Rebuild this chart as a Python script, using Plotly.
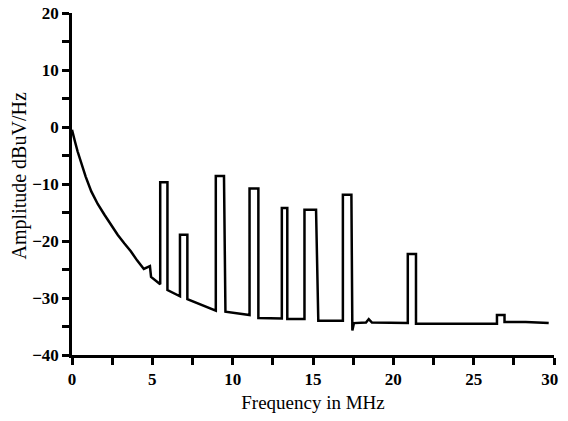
import plotly.graph_objects as go

# spectrum trace (frequency in MHz, amplitude dBuV/Hz)
freq = [0, 0.05, 0.18, 0.35, 0.59, 0.85, 1.2, 1.6, 2.02, 2.4, 2.84, 3.25, 3.66,
        4.05, 4.47, 4.85, 4.92, 5.49,
        5.49, 5.94, 5.94, 6.72, 6.72, 7.18, 7.18, 8.95, 8.95, 9.46, 9.55,
        11.05, 11.05, 11.6, 11.6, 13.06, 13.06, 13.4, 13.4, 14.47, 14.47,
        15.19, 15.33, 16.86, 16.86, 17.39, 17.45, 17.55, 18.3, 18.47, 18.67,
        20.9, 20.9, 21.41, 21.41, 26.45, 26.45, 26.92, 26.92, 28.24, 29.67]
amp = [-0.5, -1.2, -2.5, -4.3, -6.6, -8.7, -11.3, -13.5, -15.4, -17.1, -18.9, -20.4, -21.8,
       -23.4, -24.9, -24.4, -26.3, -27.6,
       -9.7, -9.7, -28.6, -29.7, -18.9, -18.9, -30.2, -32.2, -8.6, -8.6, -32.4,
       -33.0, -10.8, -10.8, -33.5, -33.6, -14.2, -14.2, -33.7, -33.7, -14.5,
       -14.5, -34.0, -34.0, -11.9, -11.9, -35.7, -34.4, -34.3, -33.7, -34.3,
       -34.4, -22.3, -22.3, -34.5, -34.5, -33.0, -33.0, -34.2, -34.2, -34.4]

x_ticks = [0, 5, 10, 15, 20, 25, 30]
x_labels = ['0', '5', '10', '15', '20', '25', '30\u00a0\u00a0']

fig = go.Figure()
fig.add_trace(go.Scatter(x=freq, y=amp, mode='lines',
                         line=dict(color='black', width=2.5), showlegend=False))

tickfont = dict(family='Liberation Serif', size=17, color='black', weight='bold')

# page has an 8px body margin, so the figure is a bit smaller than the window
fig.update_layout(
    width=552, height=405,
    margin=dict(l=64, r=6, t=5, b=58),
    plot_bgcolor='white', paper_bgcolor='white',
    xaxis=dict(range=[0, 30], tickvals=x_ticks, ticktext=x_labels,
               ticks='outside', ticklen=7, tickwidth=2.5,
               tickcolor='black', showline=True, linewidth=2.5, linecolor='black',
               showgrid=False, zeroline=False, tickfont=tickfont, automargin=False,
               ticklabeloverflow='allow',
               minor=dict(dtick=2.5, ticks='outside', ticklen=7, tickwidth=2.5,
                          tickcolor='black', showgrid=False),
               title=dict(text='Frequency in MHz', standoff=8,
                          font=dict(family='Liberation Serif', size=19, color='black'))),
    yaxis=dict(range=[-40, 20], dtick=10, ticks='outside', ticklen=7, tickwidth=2.5,
               tickcolor='black', showline=True, linewidth=2.5, linecolor='black',
               showgrid=False, zeroline=False, tickfont=tickfont, automargin=False,
               ticklabeloverflow='allow',
               minor=dict(dtick=5, ticks='outside', ticklen=7, tickwidth=2.5,
                          tickcolor='black', showgrid=False)),
    annotations=[dict(text='Amplitude dBuV/Hz', textangle=-90, showarrow=False,
                      xref='paper', yref='paper', x=-0.11, y=0.525,
                      xanchor='center', yanchor='middle',
                      font=dict(family='Liberation Serif', size=20, color='black'))],
)

fig.write_html("out.html")
